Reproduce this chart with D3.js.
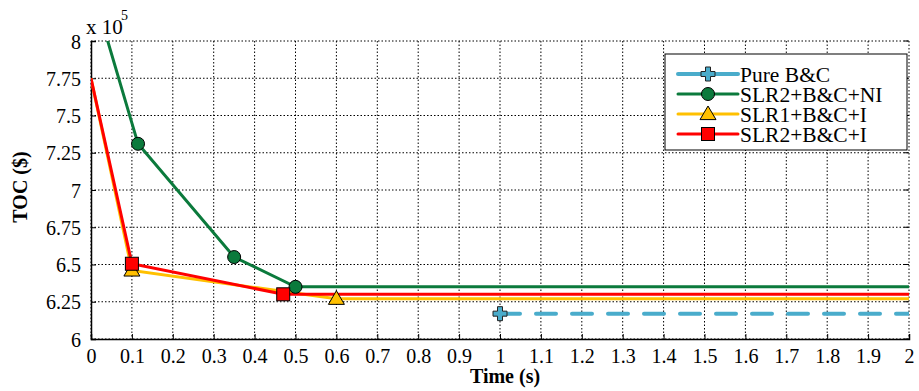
<!DOCTYPE html>
<html><head><meta charset="utf-8">
<script src="https://cdn.jsdelivr.net/npm/d3@7/dist/d3.min.js"></script>
<style>body{margin:0;background:#fff}svg{display:block}</style>
</head><body><svg id="c" width="919" height="391"></svg>
<script>
const xTicks = d3.range(0, 21).map(i => i / 10);
const yTicks = [6, 6.25, 6.5, 6.75, 7, 7.25, 7.5, 7.75, 8];
const seriesNames = ["Pure B&C", "SLR2+B&C+NI", "SLR1+B&C+I", "SLR2+B&C+I"];
const seriesColors = ["#4aaccb", "#0b7a3c", "#ffc000", "#ff0000"];
const seriesMarkers = ["plus", "circle", "triangle", "square"];
// [time, TOC (x1e5), marker?]
const pureBC = [[1, 6.17, 1], [2, 6.17, 0]];
const slr2NI = [[0, 8.38, 0], [0.115, 7.31, 1], [0.35, 6.55, 1], [0.5, 6.35, 1], [2, 6.35, 0]];
const slr1I = [[0, 7.75, 0], [0.1, 6.46, 1], [0.6, 6.27, 1], [2, 6.27, 0]];
const slr2I = [[0, 7.75, 0], [0.1, 6.505, 1], [0.47, 6.30, 1], [2, 6.30, 0]];
const seriesData = [pureBC, slr2NI, slr1I, slr2I];

const FONT = "Liberation Serif";
const svg = d3.select("#c");
const L = 91, R = 909, T = 41, B = 339;
const x = d3.scaleLinear().domain([0, 2]).range([L, R]);
const y = d3.scaleLinear().domain([6, 8]).range([B, T]);

svg.append("defs").append("clipPath").attr("id", "clip")
  .append("rect").attr("x", L).attr("y", T).attr("width", R - L).attr("height", B - T);

// grid
const g = svg.append("g");
g.selectAll(".vg").data(xTicks).join("line")
  .attr("x1", d => x(d)).attr("x2", d => x(d)).attr("y1", T).attr("y2", B)
  .attr("stroke", "#000").attr("stroke-width", 1).attr("stroke-dasharray", "1.5,2");
g.selectAll(".hg").data(yTicks).join("line")
  .attr("x1", L).attr("x2", R).attr("y1", d => y(d)).attr("y2", d => y(d))
  .attr("stroke", "#000").attr("stroke-width", 1).attr("stroke-dasharray", "1.5,2");

// axes
const xa = svg.append("g").attr("transform", `translate(0,${B})`)
  .call(d3.axisBottom(x).tickValues(xTicks).tickSize(-5).tickPadding(10).tickFormat(d => d3.format("~g")(d)));
const ya = svg.append("g").attr("transform", `translate(${L},0)`)
  .call(d3.axisLeft(y).tickValues(yTicks).tickSize(-5).tickPadding(10).tickFormat(d => d3.format("~g")(d)));
[xa, ya].forEach(a => {
  a.attr("font-family", null).attr("font-size", null);
  a.select(".domain").attr("stroke", "#000").attr("stroke-width", 1.5);
  a.selectAll(".tick line").attr("stroke", "#000").attr("stroke-width", 1);
  a.selectAll("text").attr("fill", "#000").style("font-family", FONT).style("font-size", "20px");
});
ya.selectAll("text").attr("dy", "0.35em");
xa.selectAll("text").attr("dy", "0.72em");
// right ticks
svg.append("g").selectAll("line").data(yTicks).join("line")
  .attr("x1", R - 5).attr("x2", R).attr("y1", d => y(d)).attr("y2", d => y(d)).attr("stroke", "#000");

// lines
const line = d3.line().x(d => x(d[0])).y(d => y(d[1]));
const plot = svg.append("g").attr("clip-path", "url(#clip)");
[0, 1, 2, 3].forEach(i => {
  plot.append("path").datum(seriesData[i]).attr("d", line)
    .attr("fill", "none").attr("stroke", seriesColors[i])
    .attr("stroke-width", i === 0 ? 4 : 3)
    .attr("stroke-linecap", i === 0 ? "round" : "butt")
    .attr("stroke-dasharray", i === 0 ? "20,16" : null);
});

function marker(sel, type, color, cx, cy) {
  if (type === "circle") {
    sel.append("circle").attr("cx", cx).attr("cy", cy).attr("r", 6.5).attr("fill", color).attr("stroke", "#000").attr("stroke-width", 1);
  } else if (type === "square") {
    sel.append("rect").attr("x", cx - 6.5).attr("y", cy - 6.5).attr("width", 13).attr("height", 13).attr("fill", color).attr("stroke", "#000").attr("stroke-width", 1);
  } else if (type === "triangle") {
    const s = 8;
    sel.append("path").attr("d", `M${cx},${cy - s}L${cx + s},${cy + s * 0.7}L${cx - s},${cy + s * 0.7}Z`)
      .attr("fill", color).attr("stroke", "#000").attr("stroke-width", 1);
  } else if (type === "plus") {
    const a = 7, w = 2.5;
    sel.append("path").attr("d", `M${cx - w},${cy - a}H${cx + w}V${cy - w}H${cx + a}V${cy + w}H${cx + w}V${cy + a}H${cx - w}V${cy + w}H${cx - a}V${cy - w}H${cx - w}Z`)
      .attr("fill", color).attr("stroke", "#222").attr("stroke-width", 1);
  }
}
const mk = svg.append("g");
[0, 2, 1, 3].forEach(i => {
  seriesData[i].filter(d => d[2]).forEach(d => marker(mk, seriesMarkers[i], seriesColors[i], x(d[0]), y(d[1])));
});

// legend
const lg = svg.append("g");
lg.append("rect").attr("x", 665).attr("y", 54).attr("width", 242).attr("height", 96)
  .attr("fill", "#fff").attr("stroke", "#000").attr("stroke-width", 1);
seriesNames.forEach((n, i) => {
  const yy = 74 + i * 20;
  lg.append("line").attr("x1", 678).attr("x2", 738).attr("y1", yy).attr("y2", yy)
    .attr("stroke", seriesColors[i]).attr("stroke-width", i === 0 ? 4 : 3).attr("stroke-linecap", "round");
  marker(lg, seriesMarkers[i], seriesColors[i], 708, yy);
  lg.append("text").attr("x", 740).attr("y", yy).attr("dy", "0.35em")
    .style("font-family", FONT).style("font-size", "21.5px").text(n);
});

// labels
svg.append("text").attr("x", 86).attr("y", 34).style("font-family", FONT).style("font-size", "21px").text("x 10");
svg.append("text").attr("x", 121).attr("y", 20).style("font-family", FONT).style("font-size", "14px").text("5");
svg.append("text").attr("x", 505).attr("y", 383).attr("text-anchor", "middle")
  .style("font-family", FONT).style("font-size", "20px").style("font-weight", "bold").text("Time (s)");
svg.append("text").attr("transform", "translate(27,187) rotate(-90)").attr("text-anchor", "middle")
  .style("font-family", FONT).style("font-size", "20px").style("font-weight", "bold").text("TOC ($)");
</script></body></html>
